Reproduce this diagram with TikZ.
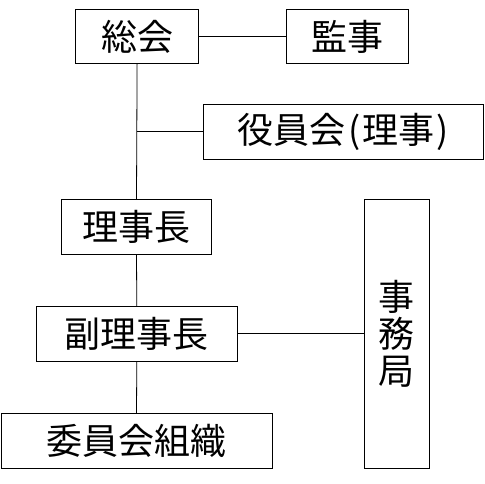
\documentclass[tikz,border=0pt]{standalone}
\usepackage{fontspec}
\newfontfamily\cjk{Noto Sans CJK JP}
\tikzset{
  box/.style={draw, line width=0.9pt, rectangle, inner sep=0pt, font=\cjk\fontsize{36}{37}\selectfont},
  conn/.style={line width=0.8pt}
}
\begin{document}
\begin{tikzpicture}[x=1pt,y=-1pt]
\useasboundingbox (0,0) rectangle (485,483);
\node[box, minimum width=123pt, minimum height=54pt] (soukai) at (137.1,36.5) {総会};
\node[box, minimum width=122pt, minimum height=54pt] (kanji) at (347.7,36.5) {監事};
\node[box, minimum width=280pt, minimum height=55pt] (yakuin) at (343.3,131.7) {役員会\hspace{3pt}(\hspace{2pt}理事\hspace{2pt})};
\node[box, minimum width=150pt, minimum height=55pt] (rijicho) at (136.5,226.7) {理事長};
\node[box, minimum width=201pt, minimum height=55pt] (fuku) at (136.8,333.8) {副理事長};
\node[box, minimum width=271pt, minimum height=55pt] (iinkai) at (136.5,440.7) {委員会組織};
\node[box, minimum width=65pt, minimum height=269pt, align=center] (jimu) at (396.8,333.7) {事\\務\\局};
\coordinate (br) at (soukai.south |- yakuin.west);
\draw[conn] (soukai.east) -- (kanji.west);
\draw[conn] (soukai.south) -- (rijicho.north);
\draw[conn] (br) -- (yakuin.west);
\draw[conn] (rijicho.south) -- (fuku.north);
\draw[conn] (fuku.south) -- (iinkai.north);
\draw[conn] (fuku.east) -- (jimu.west |- fuku.east);
\end{tikzpicture}
\end{document}
